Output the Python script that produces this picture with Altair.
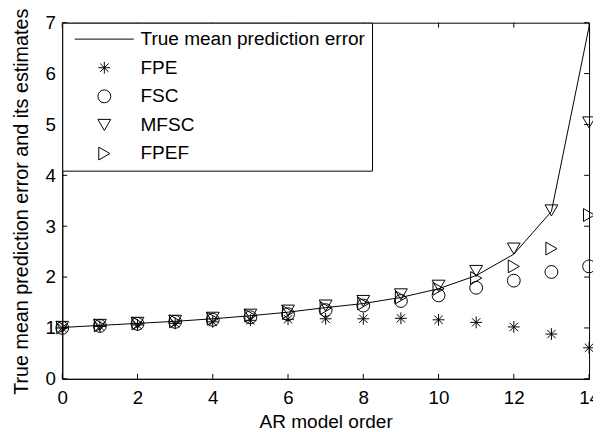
import altair as alt
import pandas as pd

orders = list(range(15))
true_err = [1.01, 1.05, 1.09, 1.13, 1.18, 1.24, 1.31, 1.40, 1.48, 1.60, 1.77, 2.03, 2.45, 3.29, 6.92]
fpe = [1.00, 1.03, 1.06, 1.09, 1.12, 1.15, 1.17, 1.18, 1.18, 1.19, 1.16, 1.11, 1.02, 0.88, 0.61]
fsc = [1.00, 1.04, 1.08, 1.12, 1.16, 1.21, 1.27, 1.35, 1.44, 1.53, 1.64, 1.79, 1.93, 2.10, 2.21]
mfsc = [1.02, 1.06, 1.10, 1.14, 1.20, 1.26, 1.34, 1.44, 1.53, 1.66, 1.83, 2.12, 2.56, 3.31, 5.04]
fpef = [1.01, 1.05, 1.09, 1.13, 1.18, 1.24, 1.31, 1.39, 1.48, 1.60, 1.77, 1.98, 2.21, 2.56, 3.22]

series_names = ["True mean prediction error", "FPE", "FSC", "MFSC", "FPEF"]
x_ticks = [0, 2, 4, 6, 8, 10, 12, 14]
y_ticks = [0, 1, 2, 3, 4, 5, 6, 7]

W, H = 534, 361
FONT = "Liberation Sans"
FS = 19

line_df = pd.DataFrame({"order": orders, "value": true_err})
pts = []
for name, vals in zip(series_names[1:], [fpe, fsc, mfsc, fpef]):
    for o, v in zip(orders, vals):
        pts.append({"order": o, "value": v, "series": name})
pts_df = pd.DataFrame(pts)
xt_df = pd.DataFrame({"t": x_ticks})
yt_df = pd.DataFrame({"t": y_ticks})

xscale = alt.Scale(domain=[0, 14], nice=False, zero=False)
yscale = alt.Scale(domain=[0, 7], nice=False)

xaxis = alt.Axis(title="AR model order", values=x_ticks, format="d", ticks=False, tickSize=0,
                 grid=False, labelFlush=False, labelOverlap=False, labelPadding=25,
                 labelBaseline="alphabetic", titleBaseline="alphabetic", titleY=49,
                 titleFontSize=19.3, domainColor="black")
yaxis = alt.Axis(title="True mean prediction error and its estimates", values=y_ticks, format="d",
                 ticks=False, tickSize=0, grid=False, labelFlush=False, labelOverlap=False,
                 labelPadding=7, titleX=-35, titleY=H / 2 + 0.5, titleAngle=-90, titleAlign="center",
                 titleBaseline="alphabetic", titleFontSize=20, domainColor="black")

star = "M-0.92,0L0.92,0M0,-0.92L0,0.92M-0.65,-0.65L0.65,0.65M-0.65,0.65L0.65,-0.65"
line_sym = "M-4.6,0L4.6,0"
shape_range = [line_sym, star, "circle", "triangle-down", "triangle-right"]

line = alt.Chart(line_df).mark_line(color="black", strokeWidth=1).encode(
    x=alt.X("order:Q", scale=xscale, axis=xaxis),
    y=alt.Y("value:Q", scale=yscale, axis=yaxis),
)

points = alt.Chart(pts_df).mark_point(filled=False, size=169, strokeWidth=1, color="black", opacity=1).encode(
    x=alt.X("order:Q", scale=xscale),
    y=alt.Y("value:Q", scale=yscale),
    shape=alt.Shape("series:N", scale=alt.Scale(domain=series_names, range=shape_range),
                    sort=series_names,
                    legend=alt.Legend(title=None, orient="top-left", offset=0, padding=7,
                                      strokeColor="black", fillColor="white",
                                      symbolOffset=26, labelOffset=27, rowPadding=9,
                                      symbolStrokeColor="black", symbolStrokeWidth=1,
                                      symbolFillColor="transparent", symbolSize=169,
                                      labelFont=FONT, labelFontSize=19.3, labelColor="black",
                                      labelLimit=400, cornerRadius=0)),
)

def tick_layer(df, orient):
    base = alt.Chart(df).mark_rule(color="black", strokeWidth=1)
    if orient == "bottom":
        return base.encode(x=alt.X("t:Q", scale=xscale), y=alt.value(H), y2=alt.value(H - 5))
    if orient == "top":
        return base.encode(x=alt.X("t:Q", scale=xscale), y=alt.value(0), y2=alt.value(5))
    if orient == "left":
        return base.encode(y=alt.Y("t:Q", scale=yscale), x=alt.value(0), x2=alt.value(5))
    return base.encode(y=alt.Y("t:Q", scale=yscale), x=alt.value(W), x2=alt.value(W - 5))

chart = alt.layer(
    tick_layer(xt_df, "bottom"), tick_layer(xt_df, "top"),
    tick_layer(yt_df, "left"), tick_layer(yt_df, "right"),
    line, points,
).properties(
    width=W, height=H,
    background="white",
    autosize=alt.AutoSizeParams(type="none"),
    padding={"left": 55, "top": 12, "right": 4, "bottom": 51},
).configure_view(
    stroke="black", strokeWidth=1
).configure_axis(
    labelFont=FONT, labelFontSize=FS, labelColor="black",
    titleFont=FONT, titleFontSize=FS, titleColor="black", titleFontWeight="normal",
    domainWidth=1,
)

chart.save("out.html", embed_options={"renderer": "svg", "actions": False})
